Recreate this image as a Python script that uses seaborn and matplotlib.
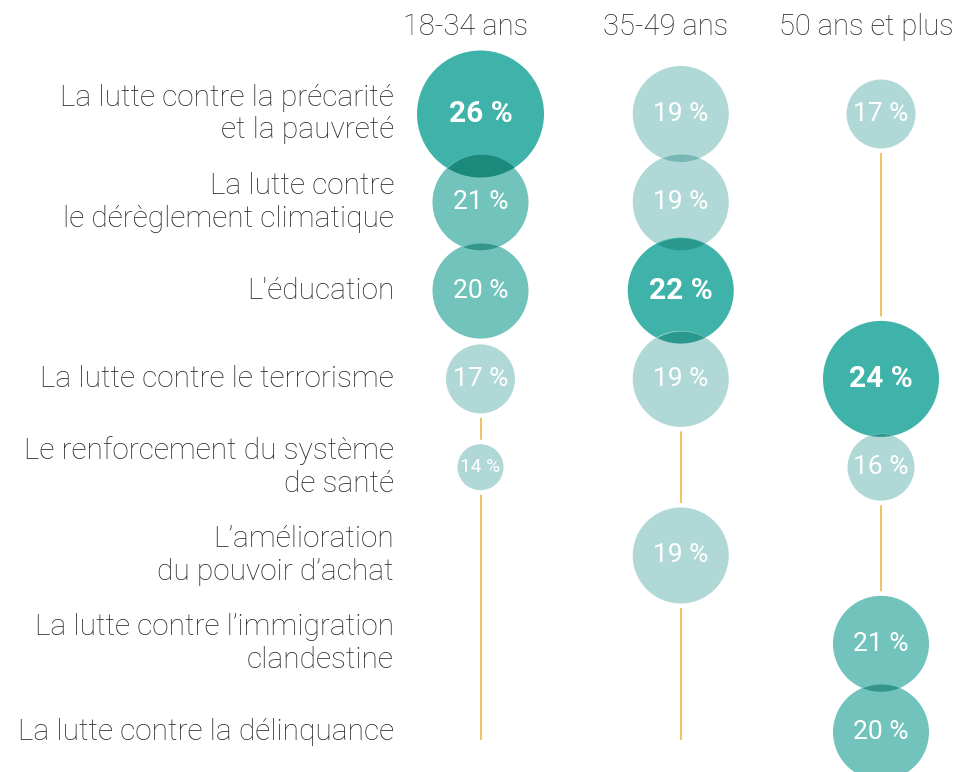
import numpy as np
import pandas as pd
import matplotlib
matplotlib.use("Agg")
import matplotlib.pyplot as plt
from matplotlib.patches import Ellipse
from matplotlib.colors import to_rgb
import seaborn as sns

# ---------------- data ----------------
categories = [
    "La lutte contre la précarité\net la pauvreté",
    "La lutte contre\nle dérèglement climatique",
    "L'éducation",
    "La lutte contre le terrorisme",
    "Le renforcement du système\nde santé",
    "L’amélioration\ndu pouvoir d’achat",
    "La lutte contre l’immigration\nclandestine",
    "La lutte contre la délinquance",
]
groups = ["18-34 ans", "35-49 ans", "50 ans et plus"]
values_18_34 = [26, 21, 20, 17, 14, None, None, None]
values_35_49 = [19, 19, 22, 19, None, 19, None, None]
values_50_plus = [17, None, None, 24, 16, None, 21, 20]

# ---------------- styles ----------------
diam_px = {14: 46, 16: 67, 17: 69, 19: 96, 20: 96, 21: 96, 22: 106, 24: 116, 26: 127}
tier_colors = {"max": "#3FB3A9", "high": "#72C3BC", "low": "#AFD8D6"}
LINE_COLOR = "#EBB23A"
TEXT_COLOR = "#262626"
FONT = ["Roboto", "DejaVu Sans"]
DPI = 100
W, H = 960, 772

sns.set_theme(style="white")
plt.rcParams["font.family"] = FONT

rows = []
for gi, (g, vals) in enumerate(zip(groups, [values_18_34, values_35_49, values_50_plus])):
    vmax = max(v for v in vals if v is not None)
    for ci, (c, v) in enumerate(zip(categories, vals)):
        if v is None:
            continue
        tier = "max" if v == vmax else ("high" if v >= 20 else "low")
        rows.append(dict(group=g, gi=gi, category=c, ci=ci, value=v, tier=tier))
df = pd.DataFrame(rows)

def pt2(d):
    return (d * 72.0 / DPI) ** 2

fig = plt.figure(figsize=(W / DPI, H / DPI), dpi=DPI)
ax = fig.add_axes([0, 0, 1, 1])

# layout: column 0 at 480 px, column 2 at 881 px; row 0 at 114 px, row step 88.3 px
ppx = (881 - 480.5) / 2
ppy = 88.3
x0, y0 = 480.5, 114
n = len(categories)

# vertical guide lines
ax.vlines(range(len(groups)), 0, n - 1 + 0.09, color=LINE_COLOR, linewidth=1.1, zorder=1)

# white halos that cut the guide lines around circles
sns.scatterplot(data=df, x="gi", y="ci", size="value",
                sizes={v: pt2(d + 9) for v, d in diam_px.items()},
                color="white", linewidth=0, legend=False, ax=ax, zorder=2)

# circles
sns.scatterplot(data=df, x="gi", y="ci", hue="tier", palette=tier_colors,
                size="value", sizes={v: pt2(d) for v, d in diam_px.items()},
                linewidth=0, legend=False, ax=ax, zorder=3, alpha=1)

ax.set_xlim(-x0 / ppx, (W - x0) / ppx)
ax.set_ylim((H - y0) / ppy, -y0 / ppy)
ax.set_axis_off()

# multiply-blend overlaps between neighbouring circles
for gi in range(len(groups)):
    sub = df[df.gi == gi].set_index("ci")
    for ci in sub.index:
        if ci + 1 in sub.index:
            a, b = sub.loc[ci], sub.loc[ci + 1]
            da, db = diam_px[a.value], diam_px[b.value]
            if (da + db) / 2 > ppy:
                ca = np.array(to_rgb(tier_colors[a.tier]))
                cb = np.array(to_rgb(tier_colors[b.tier]))
                lens = tuple(ca * cb)
                clip = Ellipse((gi, ci), width=da / ppx, height=da / ppy, transform=ax.transData)
                sc = ax.scatter([gi], [ci + 1], s=pt2(db), color=lens, linewidth=0, zorder=4)
                sc.set_clip_path(clip)

# percentage labels
for _, r in df.iterrows():
    bold = r.tier == "max"
    fs = 21.5 if bold else min(19, diam_px[r.value] * 0.3)
    ax.text(r.gi, r.ci, f"{r.value} %", ha="center", va="center", color="white",
            fontsize=fs, fontweight="bold" if bold else "normal", zorder=5)

# category labels
for ci, c in enumerate(categories):
    ax.text((394 - x0) / ppx, ci, c, ha="right", va="center", multialignment="right",
            fontsize=21.5, fontweight="light", color=TEXT_COLOR, linespacing=1.22)

# column headers
for gi, g in enumerate(groups):
    ax.text(gi - 0.075, (27 - y0) / ppy, g, ha="center", va="center",
            fontsize=21, fontweight="light", color=TEXT_COLOR)

fig.savefig("out.png", dpi=DPI)
